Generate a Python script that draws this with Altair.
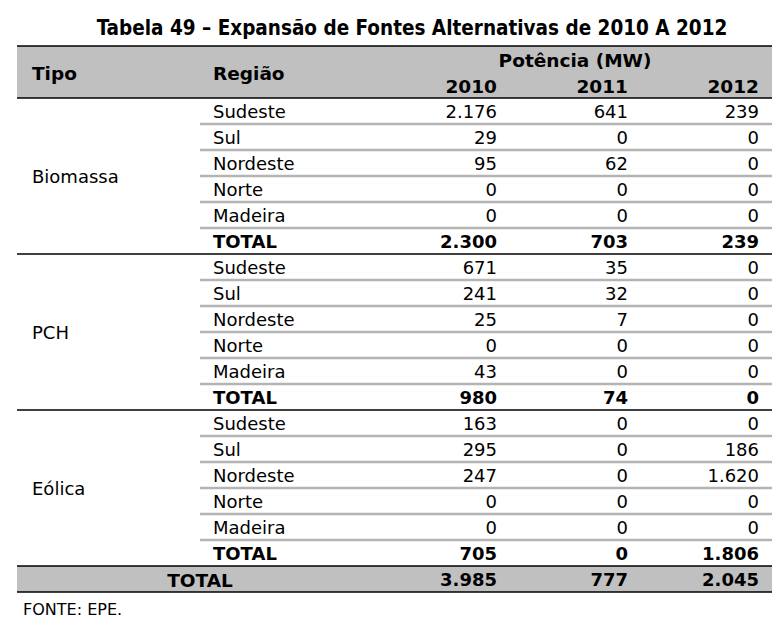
import altair as alt
import pandas as pd

# ---------------- data ----------------
tipos = ["Biomassa", "PCH", "Eólica"]
regioes = ["Sudeste", "Sul", "Nordeste", "Norte", "Madeira", "TOTAL"]
anos = ["2010", "2011", "2012"]

biomassa_2010 = [2176, 29, 95, 0, 0, 2300]
biomassa_2011 = [641, 0, 62, 0, 0, 703]
biomassa_2012 = [239, 0, 0, 0, 0, 239]

pch_2010 = [671, 241, 25, 0, 43, 980]
pch_2011 = [35, 32, 7, 0, 0, 74]
pch_2012 = [0, 0, 0, 0, 0, 0]

eolica_2010 = [163, 295, 247, 0, 0, 705]
eolica_2011 = [0, 0, 0, 0, 0, 0]
eolica_2012 = [0, 186, 1620, 0, 0, 1806]

total_geral = [3985, 777, 2045]

titulo = "Tabela 49 – Expansão de Fontes Alternativas de 2010 A 2012"
fonte = "FONTE: EPE."
cab_tipo = "Tipo"
cab_regiao = "Região"
cab_potencia = "Potência (MW)"
rot_total = "TOTAL"

# ---------------- layout (chart px) ----------------
W, H = 767, 620
ROW0 = 103          # centre of first data row, px
ROWH = 26
X_LEFT, X_RIGHT = 9, 764
X_INNER = 192
X_TIPO, X_REG = 24, 205
X_COLS = [489, 620, 751]
X_POT = 567
X_GT = 192
X_TITLE = 404
X_FONTE = 15

FONT = "DejaVu Sans"
FS = 18
GRAY_BAND = "#c0c0c0"
GRAY_LINE = "#b4b4b4"


def fmt(v):
    return f"{v:,}".replace(",", ".")


series = {
    "Biomassa": [biomassa_2010, biomassa_2011, biomassa_2012],
    "PCH": [pch_2010, pch_2011, pch_2012],
    "Eólica": [eolica_2010, eolica_2011, eolica_2012],
}

cells = []
tipo_rows = []
for g, t in enumerate(tipos):
    vals = series[t]
    for r, reg in enumerate(regioes):
        row = g * len(regioes) + r
        bold = reg == rot_total
        cells.append({"row": row, "x": X_REG, "txt": reg, "bold": bold, "align": "left"})
        for c in range(3):
            cells.append({"row": row, "x": X_COLS[c], "txt": fmt(vals[c][r]), "bold": bold, "align": "right"})
    tipo_rows.append({"row": g * len(regioes) + 2.5, "x": X_TIPO, "txt": t})

n_rows = len(tipos) * len(regioes)
gt_row = n_rows
for c in range(3):
    cells.append({"row": gt_row, "x": X_COLS[c], "txt": fmt(total_geral[c]), "bold": True, "align": "right"})

df_cells = pd.DataFrame(cells)
df_tipo = pd.DataFrame(tipo_rows)

header = pd.DataFrame(
    [{"row": -1.5, "x": X_TIPO, "txt": cab_tipo, "align": "left"},
     {"row": -1.5, "x": X_REG, "txt": cab_regiao, "align": "left"},
     {"row": -2.0, "x": X_POT, "txt": cab_potencia, "align": "center"}]
    + [{"row": -1.0, "x": X_COLS[c], "txt": anos[c], "align": "right"} for c in range(3)]
    + [{"row": gt_row, "x": X_GT, "txt": rot_total, "align": "center"}]
)

bands = pd.DataFrame([
    {"y": -2.5, "y2": -0.5},
    {"y": gt_row - 0.5, "y2": gt_row + 0.5},
])

black_lines = pd.DataFrame({"y": [-2.5, -0.5] + [g * len(regioes) - 0.5 for g in range(1, len(tipos))] + [gt_row - 0.5, gt_row + 0.5]})
gray_lines = pd.DataFrame({"y": [g * len(regioes) + r + 0.5 for g in range(len(tipos)) for r in range(len(regioes) - 1)]})

misc = pd.DataFrame([
    {"row": -3.23, "x": X_TITLE, "txt": titulo},
])
foot = pd.DataFrame([{"row": gt_row + 1.12, "x": X_FONTE, "txt": fonte}])

# ---------------- scales ----------------
xs = alt.Scale(domain=[0, W], range=[0, W], nice=False, zero=False)
ys = alt.Scale(domain=[-ROW0 / ROWH, (H - ROW0) / ROWH], range=[0, H], nice=False, zero=False)


def X(f="x"):
    return alt.X(f, type="quantitative", scale=xs, axis=None)


def Y(f="row"):
    return alt.Y(f, type="quantitative", scale=ys, axis=None)


band_layer = alt.Chart(bands).mark_rect(color=GRAY_BAND).encode(
    x=alt.datum(X_LEFT, type="quantitative", scale=xs, axis=None),
    x2=alt.datum(X_RIGHT),
    y=Y("y"), y2="y2",
)

gray_layer = alt.Chart(gray_lines).mark_rule(color=GRAY_LINE, strokeWidth=2.5).encode(
    x=alt.datum(X_INNER, type="quantitative", scale=xs, axis=None),
    x2=alt.datum(X_RIGHT),
    y=Y("y"),
)

black_layer = alt.Chart(black_lines).mark_rule(color="black", strokeWidth=1.6).encode(
    x=alt.datum(X_LEFT, type="quantitative", scale=xs, axis=None),
    x2=alt.datum(X_RIGHT),
    y=Y("y"),
)


def text_layer(df, align, bold, size=FS, font=FONT):
    return alt.Chart(df).mark_text(
        align=align, baseline="middle", font=font, fontSize=size, dy=2,
        fontWeight="bold" if bold else "normal", color="black",
    ).encode(x=X(), y=Y(), text="txt:N")


layers = [band_layer, gray_layer, black_layer]
for al in ["left", "right"]:
    for b in [True, False]:
        sub = df_cells[(df_cells["align"] == al) & (df_cells["bold"] == b)]
        if len(sub):
            layers.append(text_layer(sub, al, b))
layers.append(text_layer(df_tipo, "left", False))
for al in ["left", "right", "center"]:
    sub = header[header["align"] == al]
    layers.append(text_layer(sub, al, True, 18.5))
layers.append(text_layer(misc, "center", True, 20.5, "DejaVu Sans Condensed"))
layers.append(text_layer(foot, "left", False, 16))

chart = alt.layer(*layers).properties(
    width=W, height=H, autosize=alt.AutoSizeParams(type="none"), padding=0,
    background="white",
).configure_view(stroke=None)

chart.save("out.html", embed_options={"renderer": "svg", "actions": False})
